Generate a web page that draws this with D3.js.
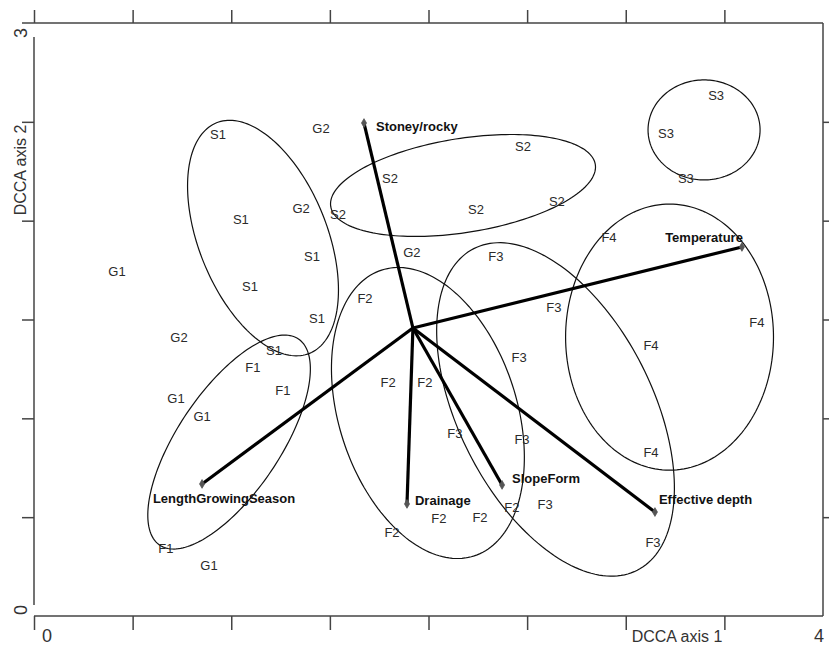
<!DOCTYPE html>
<html>
<head>
<meta charset="utf-8">
<script src="https://cdn.jsdelivr.net/npm/d3@7"></script>
<style>
  body { margin: 0; background: #fff; }
  svg { display: block; font-family: "Liberation Sans", Arial, Helvetica, sans-serif; }
</style>
</head>
<body>
<div class="chart"></div>
<script>
// sample scores (DCCA axis 1 / axis 2)
const sampleNames = [
  "S1","S1","S1","S1","S1","S1",
  "G2","G2","G2","G2",
  "G1","G1","G1","G1",
  "F1","F1","F1",
  "S2","S2","S2","S2","S2",
  "S3","S3","S3",
  "F4","F4","F4","F4",
  "F3","F3","F3","F3","F3","F3","F3",
  "F2","F2","F2","F2","F2","F2","F2"
];
const sampleAxis1 = [
  0.933,1.049,1.409,1.095,1.435,1.217,
  1.455,1.354,1.916,0.735,
  0.421,0.720,0.852,0.887,
  1.110,1.262,0.669,
  1.805,1.541,2.479,2.241,2.651,
  3.458,3.204,3.305,
  2.915,3.665,3.128,3.128,
  2.342,2.636,2.459,2.134,2.474,2.591,3.138,
  1.678,1.795,1.982,1.815,2.053,2.261,2.423
];
const sampleAxis2 = [
  2.438,2.008,1.821,1.669,1.503,1.341,
  2.469,2.064,1.841,1.411,
  1.745,1.103,1.007,0.258,
  1.255,1.143,0.344,
  2.216,2.029,2.373,2.059,2.099,
  2.631,2.443,2.216,
  1.917,1.487,1.371,0.825,
  1.821,1.563,1.310,0.921,0.895,0.562,0.374,
  1.609,1.184,1.184,0.425,0.491,0.501,0.551
];

// environmental variables (arrow tips), all from a common origin
const envOrigin = [1.921, 1.457];
const envNames = ["Stoney/rocky","Temperature","LengthGrowingSeason","Drainage","SlopeForm","Effective depth"];
const envAxis1 = [1.673, 3.589, 0.852, 1.891, 2.373, 3.148];
const envAxis2 = [2.494, 1.867, 0.668, 0.567, 0.663, 0.526];

// group envelopes
const ellipseGroups = ["S1","S2","S3","F1","F2","F3","F4"];
const ellipseCx = [1.161, 2.175, 3.397, 0.989, 1.997, 2.644, 3.222];
const ellipseCy = [1.912, 2.178, 2.459, 0.880, 1.027, 1.045, 1.411];
const ellipseRa = [0.629, 0.679, 0.284, 0.629, 0.760, 0.913, 0.527];
const ellipseRb = [0.325, 0.238, 0.253, 0.259, 0.451, 0.491, 0.673];
const ellipseAngle = [-68, 9, 0, 56, -72, -63, 0];

const xTicks = [0, 0.5, 1, 1.5, 2, 2.5, 3, 3.5];
const yTicks = [0.5, 1, 1.5, 2, 2.5];

const WIDTH = 829, HEIGHT = 646;
const MARGINS = { top: 23, right: 6, bottom: 30, left: 34 };

const svg = d3.select(".chart").append("svg")
  .attr("width", WIDTH)
  .attr("height", HEIGHT);

const x = d3.scaleLinear().domain([0, 4]).range([MARGINS.left, WIDTH - MARGINS.right]);
const y = d3.scaleLinear().domain([0, 3]).range([HEIGHT - MARGINS.bottom, MARGINS.top]);

// frame and ticks
const frame = svg.append("g").attr("stroke", "#444").attr("stroke-width", 1.5).attr("fill", "none");
frame.append("line").attr("x1", x(0) - 12).attr("x2", x(4)).attr("y1", y(3)).attr("y2", y(3));
frame.append("line").attr("x1", x(0)).attr("x2", x(4)).attr("y1", y(0)).attr("y2", y(0));
frame.append("line").attr("x1", x(0)).attr("x2", x(0)).attr("y1", y(3) + 14).attr("y2", y(0) - 11);
frame.append("line").attr("x1", x(4)).attr("x2", x(4)).attr("y1", y(3)).attr("y2", y(0));

svg.append("g")
  .attr("transform", "translate(0," + y(3) + ")")
  .call(d3.axisTop(x).tickValues(xTicks).tickSize(13).tickSizeOuter(0).tickFormat(""));
svg.append("g")
  .attr("transform", "translate(0," + y(0) + ")")
  .call(d3.axisBottom(x).tickValues(xTicks).tickSize(14).tickSizeOuter(0).tickFormat(""));
svg.append("g")
  .attr("transform", "translate(" + x(0) + ",0)")
  .call(d3.axisLeft(y).tickValues(yTicks).tickSize(12).tickSizeOuter(0).tickFormat(""));
svg.append("g")
  .attr("transform", "translate(" + x(4) + ",0)")
  .call(d3.axisRight(y).tickValues(yTicks).tickSize(8).tickSizeOuter(0).tickFormat(""));
svg.selectAll(".domain").remove();
svg.selectAll(".tick line").attr("stroke", "#444").attr("stroke-width", 1.5);

// axis end labels and titles
svg.append("text").attr("x", x(0) + 13).attr("y", y(0) + 26).attr("text-anchor", "middle")
  .style("font-size", "18px").style("fill", "#333").text("0");
svg.append("text").attr("x", x(4) - 4).attr("y", y(0) + 26).attr("text-anchor", "middle")
  .style("font-size", "18px").style("fill", "#333").text("4");
svg.append("text").attr("transform", "translate(" + (x(0) - 7) + "," + (y(3) + 10) + ") rotate(-90)")
  .attr("text-anchor", "middle").style("font-size", "18px").style("fill", "#333").text("3");
svg.append("text").attr("transform", "translate(" + (x(0) - 7) + "," + (y(0) - 6) + ") rotate(-90)")
  .attr("text-anchor", "middle").style("font-size", "18px").style("fill", "#333").text("0");
svg.append("text").attr("x", 677).attr("y", y(0) + 26).attr("text-anchor", "middle")
  .style("font-size", "16px").style("fill", "#333").text("DCCA axis 1");
svg.append("text").attr("transform", "translate(" + (x(0) - 14) + ",170) rotate(-90)")
  .attr("text-anchor", "middle").attr("dy", "0.35em")
  .style("font-size", "16px").style("fill", "#333").text("DCCA axis 2");

// ellipses
const ellipseLine = d3.line().x(d => x(d[0])).y(d => y(d[1])).curve(d3.curveLinearClosed);
ellipseGroups.forEach((g, i) => {
  const rad = ellipseAngle[i] * Math.PI / 180;
  const pts = d3.range(0, 2 * Math.PI, Math.PI / 90).map(t => {
    const u = ellipseRa[i] * Math.cos(t), v = ellipseRb[i] * Math.sin(t);
    return [ellipseCx[i] + u * Math.cos(rad) - v * Math.sin(rad),
            ellipseCy[i] + u * Math.sin(rad) + v * Math.cos(rad)];
  });
  svg.append("path")
    .attr("class", "envelope")
    .attr("d", ellipseLine(pts))
    .attr("fill", "none")
    .attr("stroke", "#111")
    .attr("stroke-width", 1.2);
});

// sample labels
svg.selectAll(".sample")
  .data(sampleNames)
  .enter()
  .append("text")
  .attr("class", "sample")
  .attr("x", (d, i) => x(sampleAxis1[i]))
  .attr("y", (d, i) => y(sampleAxis2[i]))
  .attr("dy", "0.35em")
  .attr("text-anchor", "middle")
  .style("font-size", "13px")
  .style("fill", "#2a2a2a")
  .text(d => d);

// environmental arrows
const envLabelPos = [
  { anchor: "start", dx: 12, dy: 3 },
  { anchor: "end", dx: 1, dy: -10 },
  { anchor: "middle", dx: 22, dy: 14 },
  { anchor: "start", dx: 8, dy: -3 },
  { anchor: "start", dx: 10, dy: -6 },
  { anchor: "start", dx: 4, dy: -13 }
];
envNames.forEach((name, i) => {
  svg.append("line")
    .attr("x1", x(envOrigin[0])).attr("y1", y(envOrigin[1]))
    .attr("x2", x(envAxis1[i])).attr("y2", y(envAxis2[i]))
    .attr("stroke", "#000")
    .attr("stroke-width", 3.2);
  svg.append("path")
    .attr("d", d3.symbol(d3.symbolDiamond, 22)())
    .attr("transform", "translate(" + x(envAxis1[i]) + "," + y(envAxis2[i]) + ")")
    .attr("fill", "#555")
    .attr("stroke", "#555")
    .attr("stroke-width", 0.8);
  svg.append("text")
    .attr("x", x(envAxis1[i]) + envLabelPos[i].dx)
    .attr("y", y(envAxis2[i]) + envLabelPos[i].dy)
    .attr("dy", "0.35em")
    .attr("text-anchor", envLabelPos[i].anchor)
    .style("font-size", "13px")
    .style("font-weight", "bold")
    .style("fill", "#111")
    .text(name);
});
</script>
</body>
</html>
